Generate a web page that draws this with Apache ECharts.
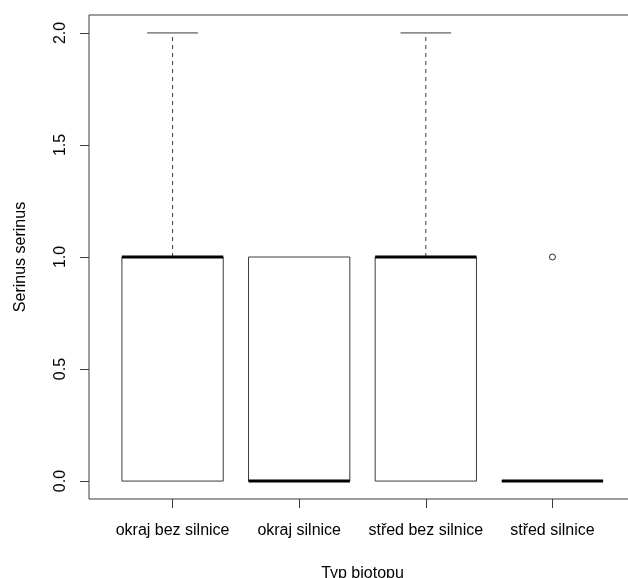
<!DOCTYPE html>
<html>
<head>
<meta charset="utf-8">
<script src="https://cdn.jsdelivr.net/npm/echarts@6/dist/echarts.min.js"></script>
<style>html,body{margin:0;padding:0;background:#fff}#c{width:628px;height:578px}</style>
</head>
<body>
<div id="c"></div>
<script>
var categories = ["okraj bez silnice", "okraj silnice", "střed bez silnice", "střed silnice"];
var whiskerLow = [0, 0, 0, 0];
var q1 = [0, 0, 0, 0];
var median = [1, 0, 1, 0];
var q3 = [1, 1, 1, 0];
var whiskerHigh = [2, 1, 2, 0];
var outliers = [[4, 1]];
var yTicks = [0, 0.5, 1, 1.5, 2];

var boxData = categories.map(function (c, i) {
  return [i + 1, whiskerLow[i], q1[i], median[i], q3[i], whiskerHigh[i]];
});

var LC = '#3a3a3a';
var FONT = 'Liberation Sans, Arial, sans-serif';

function renderBox(params, api) {
  var x = api.value(0), lo = api.value(1), a = api.value(2), m = api.value(3), b = api.value(4), hi = api.value(5);
  var hw = 0.4, cw = 0.2;
  var pL = api.coord([x - hw, b]), pR = api.coord([x + hw, a]);
  var children = [];
  children.push({type: 'rect', shape: {x: pL[0], y: pL[1], width: pR[0] - pL[0], height: pR[1] - pL[1]},
    style: {fill: 'none', stroke: LC, lineWidth: 1}});
  var c = api.coord([x, 0])[0];
  function whisk(from, to) {
    if (from === to) return;
    var p1 = api.coord([x, from]), p2 = api.coord([x, to]);
    children.push({type: 'line', shape: {x1: c, y1: p1[1], x2: c, y2: p2[1]},
      style: {stroke: LC, lineWidth: 1, lineDash: [4, 4]}});
    var l = api.coord([x - cw, to]), r = api.coord([x + cw, to]);
    children.push({type: 'line', shape: {x1: l[0], y1: l[1], x2: r[0], y2: r[1]},
      style: {stroke: LC, lineWidth: 1}});
  }
  whisk(b, hi);
  whisk(a, lo);
  var ml = api.coord([x - hw, m]), mr = api.coord([x + hw, m]);
  children.push({type: 'line', shape: {x1: ml[0], y1: ml[1], x2: mr[0], y2: mr[1]},
    style: {stroke: '#000', lineWidth: 3}});
  return {type: 'group', children: children};
}

var chart = echarts.init(document.getElementById('c'), null, {renderer: 'canvas'});
chart.setOption({
  backgroundColor: '#fff',
  animation: false,
  grid: {left: 89, right: -8, top: 15, bottom: 79, outerBoundsMode: 'none', containLabel: false,
    show: true, borderColor: LC, borderWidth: 1, backgroundColor: 'transparent'},
  xAxis: {
    type: 'value', min: 0.34, max: 4.66,
    name: 'Typ biotopu', nameLocation: 'middle', nameGap: 67,
    nameTextStyle: {fontFamily: FONT, fontSize: 16, color: '#000'},
    axisLine: {show: false, onZero: false},
    splitLine: {show: false},
    axisTick: {show: true, customValues: [1, 2, 3, 4], length: 9, lineStyle: {color: LC}},
    axisLabel: {customValues: [1, 2, 3, 4], margin: 24, fontFamily: FONT, fontSize: 16, color: '#000',
      formatter: function (v) { return categories[Math.round(v) - 1]; }}
  },
  yAxis: {
    type: 'value', min: -0.08, max: 2.08,
    name: 'Serinus serinus', nameLocation: 'middle', nameGap: 60,
    nameTextStyle: {fontFamily: FONT, fontSize: 16, color: '#000'},
    axisLine: {show: false, onZero: false},
    splitLine: {show: false},
    axisTick: {show: true, customValues: yTicks, length: 9, lineStyle: {color: LC}},
    axisLabel: {customValues: yTicks, rotate: 90, margin: 20, fontFamily: FONT, fontSize: 16, color: '#000',
      formatter: function (v) { return v.toFixed(1); }}
  },
  series: [
    {type: 'custom', renderItem: renderBox, data: boxData, clip: false},
    {type: 'scatter', data: outliers, symbol: 'circle', symbolSize: 6,
      itemStyle: {color: '#fff', borderColor: '#000', borderWidth: 1}}
  ]
});
</script>
</body>
</html>
